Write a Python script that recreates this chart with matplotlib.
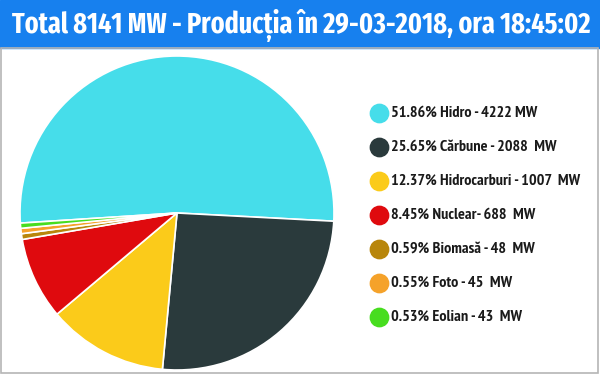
import numpy as np
import matplotlib.pyplot as plt
from matplotlib.patches import Rectangle

# date
titlu = "Total 8141 MW - Producția în 29-03-2018, ora 18:45:02"
surse = ["Hidro", "Cărbune", "Hidrocarburi", "Nuclear", "Biomasă", "Foto", "Eolian"]
procente = [51.86, 25.65, 12.37, 8.45, 0.59, 0.55, 0.53]
mw = [4222, 2088, 1007, 688, 48, 45, 43]
etichete = ["51.86% Hidro - 4222 MW", "25.65% Cărbune - 2088  MW",
            "12.37% Hidrocarburi - 1007  MW", "8.45% Nuclear- 688  MW",
            "0.59% Biomasă - 48  MW", "0.55% Foto - 45  MW", "0.53% Eolian - 43  MW"]
culori = ["#46DDEA", "#2A3A3C", "#FBCB1A", "#DF0A0E", "#B8860B", "#F5A22A", "#47DD1F"]

font_titlu = ["Fira Sans Extra Condensed", "PT Sans Narrow", "DejaVu Sans"]
font = ["PT Sans Narrow", "DejaVu Sans"]

fig = plt.figure(figsize=(6, 3.76), dpi=100)
fig.patch.set_facecolor("white")

# fundal + antet
bg = fig.add_axes([0, 0, 1, 1])
bg.set_xlim(0, 600)
bg.set_ylim(376, 0)
bg.axis("off")
bg.add_patch(Rectangle((0, 0), 600, 48, color="#1780EE"))
bg.add_patch(Rectangle((0.5, 48), 597, 325, fill=False, edgecolor="#B5B5B5", lw=1.2))
t = bg.text(301, 25, titlu, color="white", fontsize=22, fontweight="bold",
            family=font_titlu, ha="center", va="center")
# potriveste latimea titlului
r = fig.canvas.get_renderer()
w = t.get_window_extent(r).width
t.set_fontsize(22 * 578 / w)

# legenda
y0 = 113
for i, (et, c) in enumerate(zip(etichete, culori)):
    y = y0 + i * 34
    bg.scatter([379], [y], s=175, color=c, zorder=3)
    bg.text(391, y, et, fontsize=11.6, fontweight="bold", family=font,
            color="#1A1A1A", va="center", ha="left")

# placinta
ax = fig.add_axes([20 / 600, 6 / 376, 314 / 600, 314 / 376])
ax.pie(procente, colors=culori, startangle=183.7, counterclock=False,
       wedgeprops=dict(edgecolor="white", linewidth=1.2))
ax.set_xlim(-1, 1)
ax.set_ylim(-1, 1)
ax.set_aspect("equal")

fig.savefig("out.png", dpi=100)
